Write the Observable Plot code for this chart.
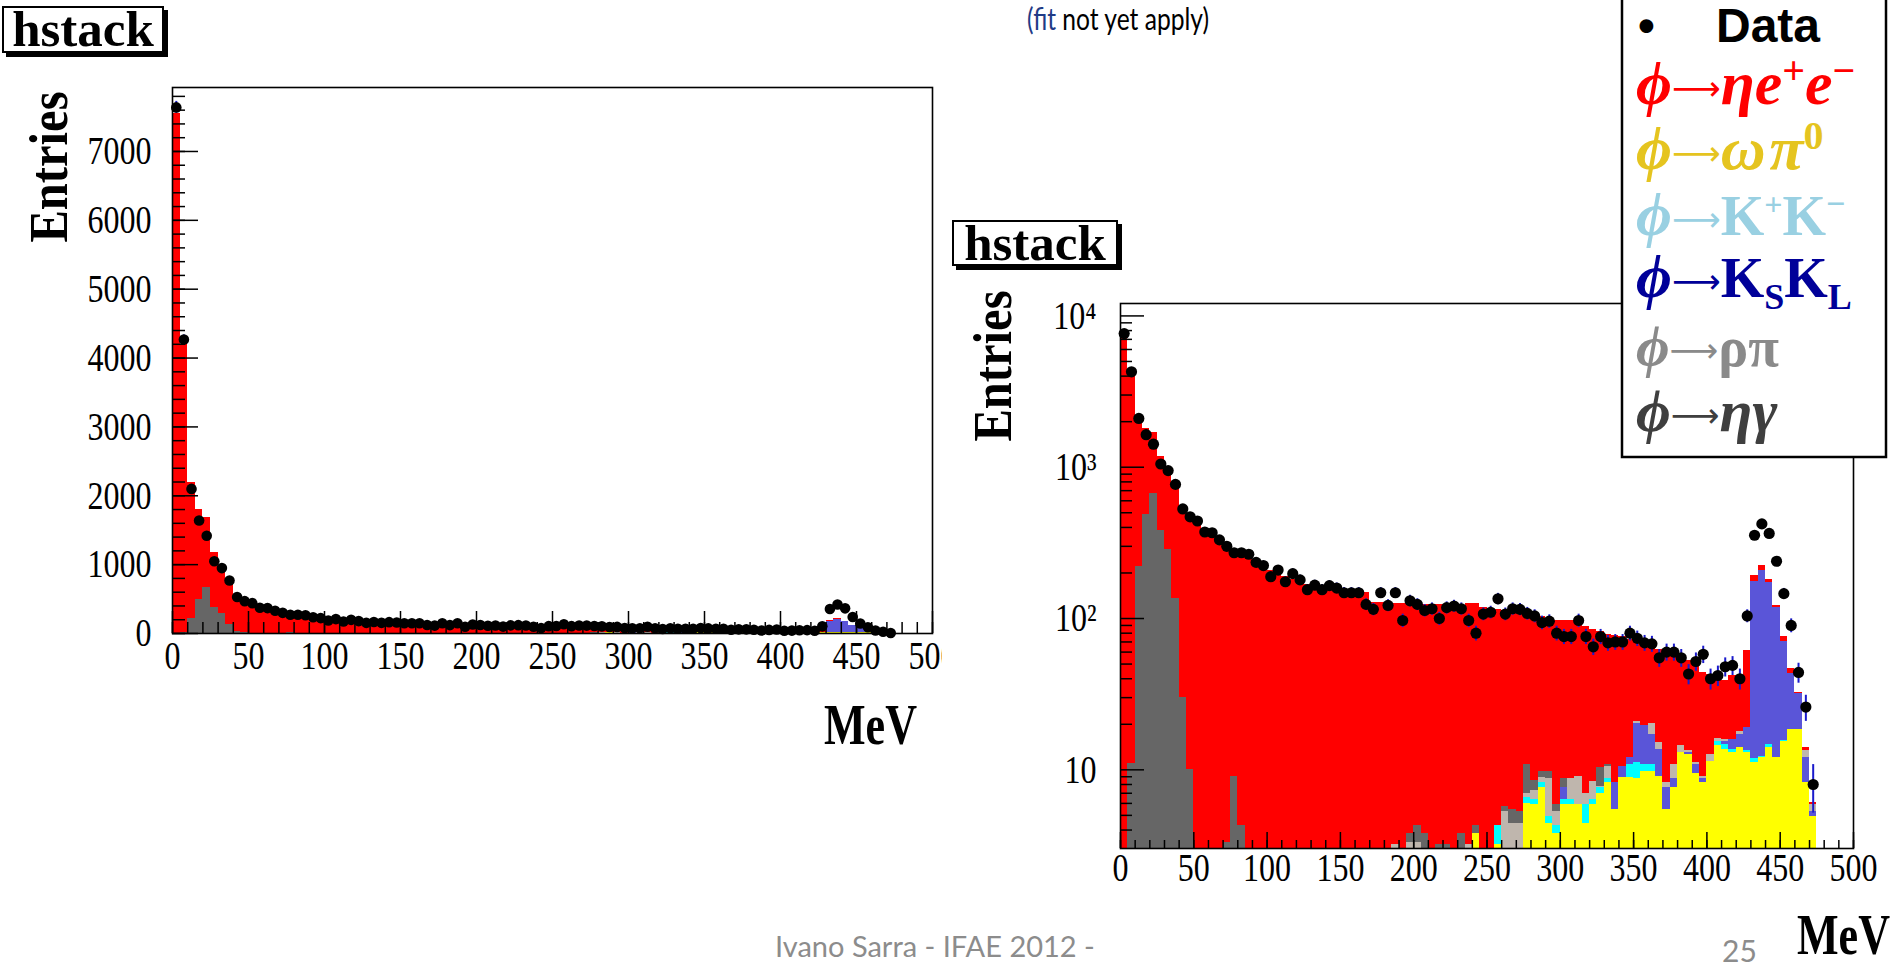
<!DOCTYPE html>
<html>
<head>
<meta charset="utf-8">
<script src="https://cdn.jsdelivr.net/npm/d3@7"></script>
<script src="https://cdn.jsdelivr.net/npm/@observablehq/plot@0.6"></script>
<style>
html,body{margin:0;padding:0;background:#fff;}
body{width:1899px;height:968px;position:relative;overflow:hidden;}
.abs{position:absolute;white-space:nowrap;}
.hstack{position:absolute;box-sizing:border-box;border:2px solid #000;box-shadow:4px 4px 0 #000;background:#fff;font:bold 51px/1 "Liberation Serif",serif;display:flex;align-items:center;justify-content:center;}
.axt{position:absolute;font:bold 58px/1 "Liberation Serif",serif;white-space:nowrap;transform:scaleX(.76);transform-origin:left top;}
.rot{position:absolute;font:bold 54px/1 "Liberation Serif",serif;white-space:nowrap;transform:translate(-50%,-50%) rotate(-90deg) scaleX(.9);}
</style>
</head>
<body>
<div id="leftPlot" class="abs" style="left:0;top:0"></div>
<div id="rightPlot" class="abs" style="left:942px;top:215px"></div>

<div class="hstack" style="left:2px;top:6px;width:162px;height:47px">hstack</div>
<div class="hstack" style="left:952px;top:220px;width:166px;height:46px">hstack</div>
<div class="rot" style="left:49px;top:167px">Entries</div>
<div class="rot" style="left:993px;top:366px">Entries</div>
<div class="axt" style="left:824px;top:696px">MeV</div>

<div class="abs" style="left:775px;top:931px;font:29px/1 Lato,sans-serif;color:#8c8c8c">Ivano Sarra - IFAE 2012 -</div>
<div class="abs" style="left:1722px;top:935px;font:30px/1 Lato,sans-serif;color:#8c8c8c">25</div>
<div class="axt" style="left:1797px;top:906px">MeV</div>
<div class="abs" style="left:1027px;top:3px;font:30px/1 Lato,sans-serif;color:#000;transform:scaleX(.82);transform-origin:left top"><span style="color:#1f3b86">(fit</span> not yet apply)</div>

<svg class="abs" style="left:1600px;top:0" width="299" height="470" font-family="'Liberation Serif','DejaVu Serif',serif" font-weight="bold">
 <g transform="translate(-1600,0)">
  <rect x="1622" y="-3" width="264" height="460" fill="#fff" stroke="#000" stroke-width="2.5"/>
  <text x="1638" y="42" font-family="'Liberation Sans',Arial,sans-serif" font-size="48">•</text>
  <text x="1716" y="42" font-family="'Liberation Sans',Arial,sans-serif" font-size="48">Data</text>
  <text x="1636" y="104" fill="#ff0000" font-size="62"><tspan font-style="italic">ϕ</tspan><tspan font-family="'DejaVu Sans',sans-serif" font-weight="normal" font-size="34" dy="-4">⟶</tspan><tspan font-style="italic" dy="4">ηe</tspan><tspan font-size="40" dy="-20">+</tspan><tspan font-style="italic" dy="20">e</tspan><tspan font-size="40" dy="-20">−</tspan></text>
  <text x="1636" y="169" fill="#e5c41f" font-size="62"><tspan font-style="italic">ϕ</tspan><tspan font-family="'DejaVu Sans',sans-serif" font-weight="normal" font-size="34" dy="-4">⟶</tspan><tspan font-style="italic" dy="4">ω</tspan><tspan font-style="italic" dx="5">π</tspan><tspan font-size="40" dy="-20">0</tspan></text>
  <text x="1636" y="235" fill="#99d0e2" font-size="56"><tspan font-style="italic" font-size="62">ϕ</tspan><tspan font-family="'DejaVu Sans',sans-serif" font-weight="normal" font-size="34" dy="-4">⟶</tspan><tspan dy="4">K</tspan><tspan font-size="32" dy="-20">+</tspan><tspan dy="20">K</tspan><tspan font-size="34" dy="-20">−</tspan></text>
  <text x="1636" y="297" fill="#000099" font-size="56"><tspan font-style="italic" font-size="62">ϕ</tspan><tspan font-family="'DejaVu Sans',sans-serif" font-weight="normal" font-size="34" dy="-4">⟶</tspan><tspan dy="4">K</tspan><tspan font-size="36" dy="12">S</tspan><tspan dy="-12">K</tspan><tspan font-size="36" dy="12">L</tspan></text>
  <text x="1636" y="366" fill="#8a8a8a" font-size="56"><tspan font-style="italic" font-size="58">ϕ</tspan><tspan font-family="'DejaVu Sans',sans-serif" font-weight="normal" font-size="34" dy="-4">⟶</tspan><tspan dy="4">ρπ</tspan></text>
  <text x="1636" y="431" fill="#3f3f3f" font-size="60"><tspan font-style="italic">ϕ</tspan><tspan font-family="'DejaVu Sans',sans-serif" font-weight="normal" font-size="34" dy="-4">⟶</tspan><tspan font-style="italic" dy="4">ηγ</tspan></text>
 </g>
</svg>

<script>
// ---------- DATA (5 MeV bins, 0–475 MeV) ----------
const binWidth = 5;
const binLow = d3.range(0, 475, binWidth);

const dataCounts = [
  7640, 4270, 2100, 1640, 1420, 1050, 950, 770, 530, 470,
  441, 373, 369, 331, 300, 272, 272, 266, 235, 224,
  189, 209, 175, 198, 180, 155, 166, 155, 165, 159,
  148, 148, 148, 124, 115, 148, 122, 148, 97, 131,
  124, 113, 116, 100, 118, 121, 116, 97, 80, 107,
  110, 135, 107, 116, 115, 108, 104, 94, 96, 80,
  76, 76, 97, 76, 65, 76, 69, 70, 70, 80,
  74, 69, 68, 55, 60, 60, 55, 43, 52, 58,
  40, 42, 48, 49, 40, 104, 355, 422, 365, 239,
  146, 90, 44, 26, 8
];

// phi -> eta e+ e-  (red)
const etaEE = [
  7550, 4189, 1980, 1310, 1020, 796, 674, 625, 530, 480,
  450, 395, 365, 335, 302, 273, 264, 258, 240, 222,
  207, 200, 190, 182, 174, 167, 164, 162, 160, 158,
  155, 153, 150, 148, 128, 128, 127, 123, 126, 121,
  121, 120, 124, 120, 120, 122, 118, 123, 122, 118,
  114, 110, 108, 107, 105, 95, 97, 94, 90, 91,
  88, 89, 88, 81, 76, 72, 68, 69, 66, 61,
  51, 52, 51, 47, 52, 47, 39, 39, 40, 35,
  30, 23, 23, 26, 24, 42, 17, 15, 8, 4,
  5.8, 3.6, 0.6, 0.7, 0.2
];

// phi -> omega pi0 (yellow)
const omegaPi0 = [
  0, 0, 0, 0, 0, 0, 0, 0, 0, 0,
  0, 0, 0, 0, 0, 0, 0, 0, 0, 0,
  0, 0, 0, 0, 0, 0, 0, 0, 0, 0,
  0, 0, 0, 0, 0, 0, 0, 0, 0, 0,
  0, 0, 0, 0, 0, 0, 0, 0, 3.8, 0,
  0, 3.2, 0, 0, 0, 6.0, 5.9, 7.6, 4.4, 3.8,
  5.9, 5.9, 5.9, 4.4, 5.9, 7.0, 8.2, 5.5, 8.9, 8.9,
  8.7, 9.7, 9.7, 9.1, 5.5, 7.6, 13.0, 12.7, 9.5, 8.2,
  11.4, 14.5, 13.7, 13.0, 14.1, 13.0, 11.1, 12.0, 14.1, 12.0,
  15.3, 18.5, 18.5, 8.2, 4.9
];

// phi -> K+ K- (cyan)
const kPlusKMinus = [
  0, 0, 0, 0, 0, 0, 0, 0, 0, 0,
  0, 0, 0, 0, 0, 0, 0, 0, 0, 0,
  0, 0, 0, 0, 0, 0, 0, 0, 0, 0,
  0, 0, 0, 0, 0, 0, 0, 0, 0, 0,
  0, 0, 0, 0, 0, 0, 0, 0, 0, 0,
  0, 1.1, 0, 0, 0, 0.6, 0.5, 0.6, 0.5, 0.5,
  0.5, 0.5, 0, 1.5, 0.5, 0.6, 0.5, 0, 0, 1.9,
  2.4, 1.1, 1.1, 0, 0, 0, 0, 0, 0, 0,
  0, 0.8, 1.1, 0.7, 0, 0.4, 0.7, 0.3, 0.7, 0,
  0.4, 0, 0, 0, 0
];

// phi -> Ks KL (blue)
const ksKL = [
  0, 0, 0, 0, 0, 0, 0, 0, 0, 0,
  0, 0, 0, 0, 0, 0, 0, 0, 0, 0,
  0, 0, 0, 0, 0, 0, 0, 0, 0, 0,
  0, 0, 0, 0, 0, 0, 0, 0, 0, 0,
  0, 0, 0, 0, 0, 0, 0, 0, 0, 0,
  0, 0, 0, 0, 0, 0, 0, 0, 0, 0,
  1.2, 0, 0, 0, 0, 0, 0, 2.7, 1.6, 1.2,
  9.0, 8.8, 6.3, 4.6, 2.1, 1.1, 0, 0.3, 1.3, 0.5,
  0, 0, 0.5, 2.2, 3.0, 5.7, 165, 196, 157, 106,
  54.5, 24.6, 13.4, 3.8, 0.4
];

// phi -> rho pi (light grey)
const rhoPi = [
  0, 0, 0, 0, 0, 0, 0, 0, 0, 0,
  0, 0, 0, 0, 0, 0, 0, 0, 0, 0,
  0, 0, 0, 0, 0, 0, 0, 0, 0, 0,
  0, 0, 0, 0, 0, 0, 0, 3.2, 0, 3.3,
  3.3, 0, 0, 0, 0, 0, 0, 3.2, 0, 0,
  0, 0, 5.3, 4.4, 4.4, 0.4, 0.9, 0.7, 3.8, 1.0,
  0, 2.3, 3.2, 1.1, 2.0, 0.2, 1.8, 0, 0, 0,
  0.8, 0, 3.2, 1.4, 0.6, 2.2, 1.5, 0.4, 0.3, 0.4,
  1.3, 0.9, 0.6, 0, 0.9, 0, 0, 0, 0, 0,
  0, 0, 0, 1.4, 0.6
];

// phi -> eta gamma (dark grey)
const etaGamma = [
  0, 11, 220, 490, 670, 384, 286, 135, 30, 10,
  0, 0, 0, 0, 3.3, 9.1, 4.3, 0, 0, 0,
  0, 0, 0, 0, 0, 0, 0, 0, 0, 0,
  0, 0, 0, 0, 0, 0, 0, 0, 0, 0.5,
  1.0, 3.8, 0, 3.2, 3.2, 0, 3.8, 0, 0.5, 0,
  0, 0, 0.4, 1.1, 0.9, 3.9, 1.2, 0.8, 1.0, 0.6,
  1.1, 0, 0, 0, 0, 2.5, 0.4, 0, 0, 0,
  0, 0, 0, 0, 0, 0, 0, 0, 0, 0,
  0, 0, 0, 0, 0, 0, 0, 0, 0, 0,
  0, 0, 0, 0, 0
];

// tick values / labels
const xMajorTicks = [0, 50, 100, 150, 200, 250, 300, 350, 400, 450, 500];
const xMinorTicks = d3.range(0, 501, 10);
const yLinMajor = [0, 1000, 2000, 3000, 4000, 5000, 6000, 7000];
const yLinMinor = d3.range(0, 7900, 200);
const yLogMajor = [10, 100, 1000, 10000];
const yLogLabels = ["10", "10²", "10³", "10⁴"];
const yLogMinor = [1, 10, 100, 1000].flatMap(d => [2,3,4,5,6,7,8,9].map(k => k * d)).filter(v => v > 3.1);

// ---------- STYLE ----------
const stackOrder = [
  {values: omegaPi0, color: "#ffff00"},
  {values: kPlusKMinus, color: "#00ffff"},
  {values: ksKL, color: "#5a55d8"},
  {values: rhoPi, color: "#bfb6ad"},
  {values: etaGamma, color: "#666666"},
  {values: etaEE, color: "#ff0000"}
];

function stackRows(floor) {
  const rows = [];
  binLow.forEach((x0, i) => {
    let cum = 0;
    for (const c of stackOrder) {
      const v = c.values[i];
      if (v > 0) rows.push({x1: x0, x2: x0 + binWidth, y1: Math.max(cum, floor), y2: cum + v, fill: c.color});
      cum += v;
    }
  });
  return rows;
}

function pointRows(floor) {
  return binLow.map((x0, i) => {
    const n = dataCounts[i], e = Math.sqrt(n);
    return {x: x0 + binWidth / 2, x1: x0, x2: x0 + binWidth, y: n, lo: Math.max(n - e, floor), hi: n + e};
  });
}

function histPlot(o) {
  const FW = o.width - o.mL - o.mR, FH = o.height - o.mT - o.mB;
  const tick = {stroke: "black", strokeWidth: 1.5};
  const svg = Plot.plot({
    width: o.width, height: o.height,
    marginLeft: o.mL, marginRight: o.mR, marginTop: o.mT, marginBottom: o.mB,
    style: {background: o.background, fontFamily: "'Liberation Serif', 'DejaVu Serif', serif", color: "black", overflow: "hidden"},
    x: {domain: [0, 500], axis: null},
    y: o.log ? {type: "log", domain: o.yDomain, clamp: true, axis: null} : {domain: o.yDomain, axis: null},
    color: {type: "identity"},
    marks: [
      Plot.rect(stackRows(o.floor), {x1: "x1", x2: "x2", y1: "y1", y2: "y2", fill: "fill", shapeRendering: "crispEdges"}),
      Plot.ruleX(pointRows(o.floor), {x: "x", y1: "lo", y2: "hi", stroke: "#1a1acc", strokeWidth: 2}),
      Plot.ruleY(pointRows(o.floor), {y: "y", x1: "x1", x2: "x2", stroke: "black", strokeWidth: 2}),
      Plot.dot(pointRows(o.floor), {x: "x", y: "y", r: o.r, fill: "black"}),
      Plot.tickY(o.yMinor, {y: d => d, insetRight: FW - o.yMinLen, ...tick}),
      Plot.tickY(o.yMajor, {y: d => d, insetRight: FW - o.yMajLen, ...tick}),
      Plot.tickX(xMinorTicks, {x: d => d, insetTop: FH - o.xMinLen, ...tick}),
      Plot.tickX(xMajorTicks, {x: d => d, insetTop: FH - o.xMajLen, ...tick}),
      Plot.text(o.yMajor, {y: d => d, text: (d, i) => o.yLabels[i], frameAnchor: "left", textAnchor: "end", dx: o.yDx, fontSize: 32}),
      Plot.text(xMajorTicks, {x: d => d, text: d => String(d), frameAnchor: "bottom", dy: o.xDy, fontSize: 32}),
      Plot.frame({stroke: "black", strokeWidth: 1.6})
    ]
  });
  // ROOT tick labels look vertically stretched: stretch each label about its anchor
  svg.querySelectorAll("text").forEach(t => {
    const x = +t.getAttribute("x") || 0, y = +t.getAttribute("y") || 0;
    const tr = t.getAttribute("transform") || "";
    t.setAttribute("transform", `${tr} translate(${x},${y}) scale(1,1.25) translate(${-x},${-y})`);
  });
  return svg;
}

document.getElementById("leftPlot").append(histPlot({
  log: false, width: 942, height: 760, mL: 172, mR: 10, mT: 87, mB: 127,
  yDomain: [0, 7929], floor: 0, background: "transparent",
  yMajor: yLinMajor, yMinor: yLinMinor, yLabels: yLinMajor.map(String),
  yMajLen: 26, yMinLen: 13, xMajLen: 22, xMinLen: 11,
  yDx: -21, xDy: 35, r: 5.3
}));

document.getElementById("rightPlot").append(histPlot({
  log: true, width: 957, height: 700, mL: 178, mR: 46, mT: 88, mB: 67,
  yDomain: [3.02, 12080], floor: 0.5, background: "white",
  yMajor: yLogMajor, yMinor: yLogMinor, yLabels: yLogLabels,
  yMajLen: 24, yMinLen: 12, xMajLen: 16, xMinLen: 8,
  yDx: -24, xDy: 32, r: 5.6
}));
</script>
</body>
</html>
